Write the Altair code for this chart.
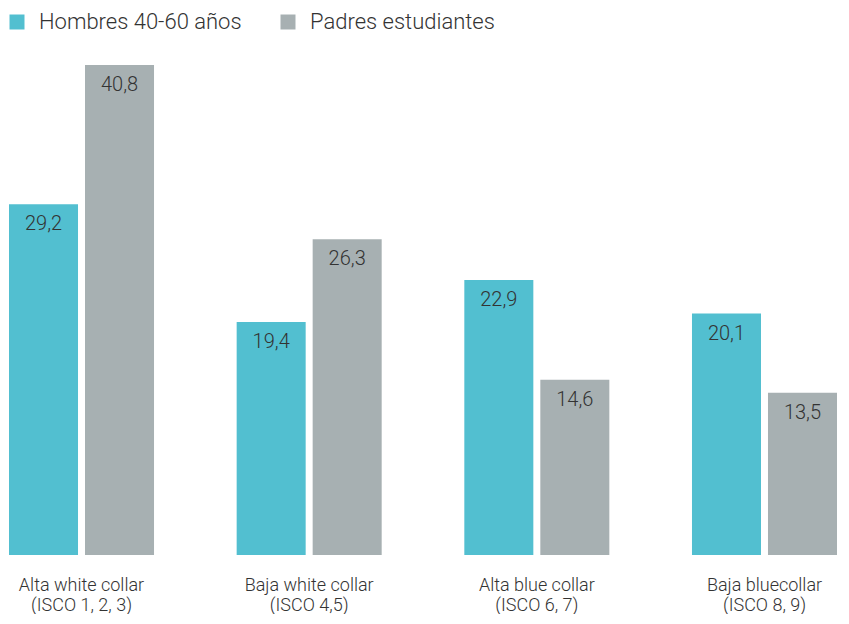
import altair as alt
import pandas as pd

categories = ["Alta white collar\n(ISCO 1, 2, 3)", "Baja white collar\n(ISCO 4,5)",
              "Alta blue collar\n(ISCO 6, 7)", "Baja bluecollar\n(ISCO 8, 9)"]
series = ["Hombres 40-60 años", "Padres estudiantes"]
hombres = [29.2, 19.4, 22.9, 20.1]
padres = [40.8, 26.3, 14.6, 13.5]
colors = ["#52BFD0", "#A7B0B2"]

rows = []
for i, c in enumerate(categories):
    for s, vals in zip(series, [hombres, padres]):
        v = vals[i]
        rows.append({"cat": c, "serie": s, "valor": v, "etiqueta": f"{v:.1f}".replace(".", ",")})
df = pd.DataFrame(rows)
cats_df = pd.DataFrame({"cat": categories})

FONT = "Roboto"
TXT = "#333333"
H = 490

xscale = alt.Scale(paddingInner=0.363, paddingOuter=0.0044)
xenc = alt.X("cat:N", sort=categories, axis=None, scale=xscale)
xoff = alt.XOffset("serie:N", sort=series, scale=alt.Scale(paddingInner=0.092, paddingOuter=0))
yenc = alt.Y("valor:Q", axis=None, scale=alt.Scale(domain=[0, 40.8], nice=False, zero=True))

bars = alt.Chart(df).mark_bar().encode(
    x=xenc, xOffset=xoff, y=yenc,
    color=alt.Color("serie:N", sort=series,
                    scale=alt.Scale(domain=series, range=colors),
                    legend=alt.Legend(title=None, orient="none", legendX=-2, legendY=-54,
                                      direction="horizontal", symbolType="square",
                                      symbolSize=225, symbolStrokeWidth=0, padding=0,
                                      labelFont=FONT, labelFontSize=22, labelColor=TXT,
                                      labelFontWeight=300,
                                      labelOffset=11, columnPadding=35, labelLimit=400))
)

vals = alt.Chart(df).mark_text(font=FONT, fontSize=20, fontWeight=300, color=TXT,
                               baseline="alphabetic", dy=26).encode(
    x=xenc, xOffset=xoff, y=yenc, text="etiqueta:N"
)

labels = alt.Chart(cats_df).mark_text(font=FONT, fontSize=18, fontWeight=300, color=TXT,
                                      baseline="top", lineBreak="\n", lineHeight=20).encode(
    x=alt.X("cat:N", sort=categories, axis=None, scale=xscale),
    y=alt.value(H + 22),
    text="cat:N"
)

chart = alt.layer(bars, vals, labels).properties(
    width=830, height=H,
    autosize=alt.AutoSizeParams(type="none"),
    padding={"left": 0, "top": 57, "right": 3, "bottom": 59}
).configure_view(stroke=None)

chart.save("out.html", embed_options={"renderer": "svg", "actions": False})
